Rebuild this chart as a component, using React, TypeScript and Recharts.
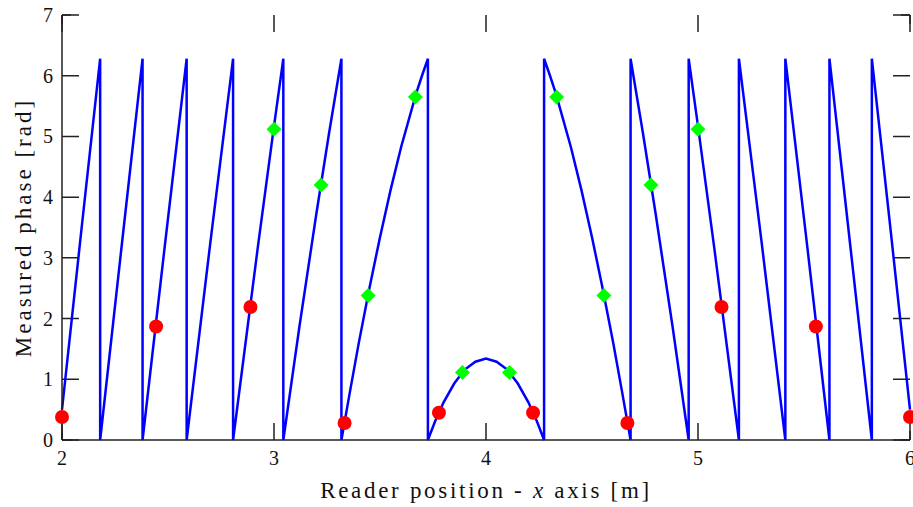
import { ComposedChart, Line, Scatter, XAxis, YAxis, Label, CartesianGrid } from 'recharts';

// wrapped phase curve (jumps are duplicated x values)
const curveX = [
  2.0, 2.09, 2.18, 2.18, 2.28, 2.38, 2.38, 2.484, 2.588, 2.588, 2.7, 2.807, 2.807, 2.925, 3.0, 3.044, 3.044,
  3.12, 3.2, 3.26, 3.318, 3.318, 3.36, 3.4, 3.45, 3.5, 3.55, 3.6, 3.67, 3.7, 3.726, 3.726,
  3.76, 3.8, 3.85, 3.9, 3.95, 4.0, 4.05, 4.1, 4.15, 4.2, 4.24, 4.274, 4.274,
  4.3, 4.33, 4.4, 4.45, 4.5, 4.55, 4.6, 4.64, 4.682, 4.682, 4.74, 4.8, 4.88, 4.956, 4.956,
  5.0, 5.075, 5.193, 5.193, 5.3, 5.412, 5.412, 5.516, 5.62, 5.62, 5.72, 5.82, 5.82, 5.91, 6.0,
];
const curveY = [
  0.5, 3.41, 6.28, 0, 3.15, 6.28, 0, 3.17, 6.28, 0, 3.26, 6.28, 0, 3.21, 5.17, 6.28, 0,
  1.87, 3.73, 5.06, 6.28, 0, 0.83, 1.6, 2.5, 3.34, 4.12, 4.83, 5.7, 6.02, 6.28, 0,
  0.31, 0.62, 0.93, 1.16, 1.29, 1.34, 1.29, 1.16, 0.93, 0.62, 0.31, 0, 6.28,
  6.02, 5.7, 4.83, 4.12, 3.34, 2.5, 1.6, 0.83, 0, 6.28, 5.06, 3.73, 1.87, 0, 6.28,
  5.17, 3.21, 0, 6.28, 3.26, 0, 6.28, 3.17, 0, 6.28, 3.15, 0, 6.28, 3.41, 0.5,
];

// measured samples (red) and selected samples (green)
const redX = [2.0, 2.444, 2.889, 3.333, 3.778, 4.222, 4.667, 5.111, 5.556, 6.0];
const redY = [0.38, 1.87, 2.19, 0.28, 0.45, 0.45, 0.28, 2.19, 1.87, 0.38];
const greenX = [3.0, 3.222, 3.444, 3.667, 3.889, 4.111, 4.333, 4.556, 4.778, 5.0];
const greenY = [5.12, 4.2, 2.38, 5.65, 1.11, 1.11, 5.65, 2.38, 4.2, 5.12];

const xMajor = [2, 3, 4, 5, 6];
const xMinor = [2.2, 2.4, 2.6, 2.8, 3.2, 3.4, 3.6, 3.8, 4.2, 4.4, 4.6, 4.8, 5.2, 5.4, 5.6, 5.8];
const yMajor = [0, 1, 2, 3, 4, 5, 6, 7];
const yMinor = [0.5, 1.5, 2.5, 3.5, 4.5, 5.5, 6.5];

const curve = curveX.map((x, i) => ({ x, y: curveY[i] }));
const red = redX.map((x, i) => ({ x, y: redY[i] }));
const green = greenX.map((x, i) => ({ x, y: greenY[i] }));

const W = 913;
const H = 507;
const M = { top: 15, right: 3, bottom: 37, left: 2 };
const PLOT_W = W - M.left - M.right - 60;
const PLOT_H = H - M.top - M.bottom - 30;

const FONT = 'Liberation Serif, Times New Roman, serif';
const AXIS = '#222';
const MAJOR = 17;
const MINOR = 9;
const axisStroke = { stroke: AXIS, strokeWidth: 1.5 };

// inward ticks on both sides: grid lines dashed so only both ends show
const dashV = (len: number) => `${len} ${PLOT_H - 2 * len} ${len}`;
const dashH = (len: number) => `${len} ${PLOT_W - 2 * len} ${len}`;

function BottomLabel({ x, y, payload }: any) {
  return (
    <text x={x} y={y + 25} textAnchor="middle" fontSize={20} fontFamily={FONT} fill="#111">
      {payload.value}
    </text>
  );
}

function LeftLabel({ x, y, payload }: any) {
  return (
    <text x={x - 9} y={y + 7} textAnchor="end" fontSize={20} fontFamily={FONT} fill="#111">
      {payload.value}
    </text>
  );
}

function RedDot({ cx, cy }: any) {
  return <circle cx={cx} cy={cy} r={7} fill="#ff0000" />;
}

function GreenDiamond({ cx, cy }: any) {
  const h = 7.5;
  return <polygon points={`${cx},${cy - h} ${cx + h},${cy} ${cx},${cy + h} ${cx - h},${cy}`} fill="#00ff00" />;
}

function YTitle({ viewBox }: any) {
  const cx = viewBox.x + 21;
  const cy = viewBox.y + viewBox.height / 2;
  return (
    <text x={cx} y={cy} transform={`rotate(-90 ${cx} ${cy})`} textAnchor="middle" dominantBaseline="central"
      fontSize={23} fontFamily={FONT} fill="#111" letterSpacing={3}>
      Measured phase [rad]
    </text>
  );
}

function XTitle({ viewBox }: any) {
  const cx = viewBox.x + viewBox.width / 2;
  return (
    <text x={cx} y={498} textAnchor="middle" fontSize={23} fontFamily={FONT} fill="#111" letterSpacing={2.7}>
      Reader position - <tspan fontStyle="italic">x</tspan> axis [m]
    </text>
  );
}

const hidden = () => <g />;

export default function App() {
  return (
    <div style={{ position: 'absolute', left: 0, top: 0, background: '#fff' }}>
      <ComposedChart width={W} height={H} margin={M}>
        {/* zero-size axes carrying the minor tick positions */}
        <XAxis xAxisId="xm" type="number" dataKey="x" domain={[2, 6]} ticks={xMinor} interval={0} height={0}
          tick={false} tickLine={false} axisLine={false} />
        <YAxis yAxisId="ym" type="number" domain={[0, 7]} ticks={yMinor} interval={0} width={0}
          tick={false} tickLine={false} axisLine={false} />

        <XAxis xAxisId="b" dataKey="x" type="number" domain={[2, 6]} ticks={xMajor} interval={0}
          height={30} tickSize={0} tickMargin={0} tickLine={false} tick={<BottomLabel />} axisLine={axisStroke}>
          <Label content={<XTitle />} />
        </XAxis>
        <XAxis xAxisId="t" orientation="top" dataKey="x" type="number" domain={[2, 6]} ticks={xMajor}
          height={0} tickLine={false} tick={false} axisLine={axisStroke} />
        <YAxis yAxisId="l" type="number" domain={[0, 7]} ticks={yMajor} interval={0} width={60}
          tickSize={0} tickMargin={0} tickLine={false} tick={<LeftLabel />} axisLine={axisStroke}>
          <Label content={<YTitle />} />
        </YAxis>
        <YAxis yAxisId="r" orientation="right" type="number" domain={[0, 7]} ticks={yMajor} width={0}
          tickLine={false} tick={false} axisLine={axisStroke} />

        <CartesianGrid xAxisId="b" yAxisId="l" horizontal={false} stroke={AXIS} strokeWidth={1.5}
          strokeDasharray={dashV(MAJOR)} />
        <CartesianGrid xAxisId="b" yAxisId="l" vertical={false} stroke={AXIS} strokeWidth={1.5}
          strokeDasharray={dashH(MAJOR)} />
        <CartesianGrid xAxisId="xm" yAxisId="ym" horizontal={false} stroke={AXIS} strokeWidth={1.5}
          strokeDasharray={dashV(MINOR)} />
        <CartesianGrid xAxisId="xm" yAxisId="ym" vertical={false} stroke={AXIS} strokeWidth={1.5}
          strokeDasharray={dashH(MINOR)} />

        <Line xAxisId="b" yAxisId="l" data={curve} dataKey="y" type="linear" stroke="#0000ff" strokeWidth={2.5}
          dot={false} activeDot={false} isAnimationActive={false} />
        <Scatter xAxisId="t" yAxisId="r" data={red} dataKey="y" shape={hidden} isAnimationActive={false} />
        <Scatter xAxisId="xm" yAxisId="ym" data={red} dataKey="y" shape={hidden} isAnimationActive={false} />
        <Scatter xAxisId="b" yAxisId="l" data={red} dataKey="y" shape={<RedDot />} isAnimationActive={false} />
        <Scatter xAxisId="b" yAxisId="l" data={green} dataKey="y" shape={<GreenDiamond />} isAnimationActive={false} />
      </ComposedChart>
    </div>
  );
}
